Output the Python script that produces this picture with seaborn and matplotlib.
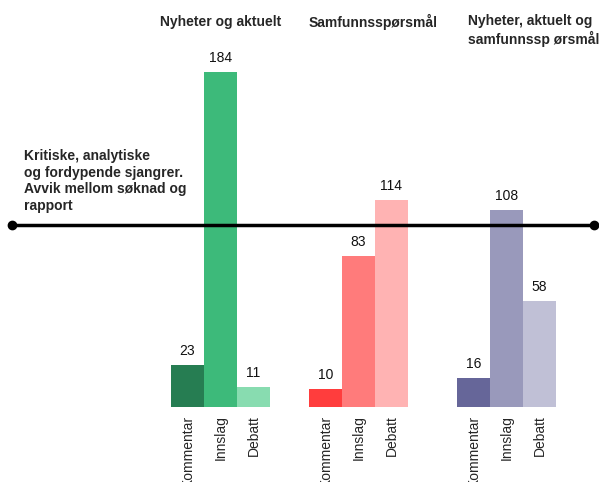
import pandas as pd
import seaborn as sns
import matplotlib.pyplot as plt
import matplotlib.transforms as mtransforms

# data
groups = ['Nyheter og aktuelt', 'Samfunnsspørsmål', 'Nyheter, aktuelt og\nsamfunnssp ørsmål']
genres = ['Kommentar', 'Innslag', 'Debatt']
nyheter = [23, 184, 11]
samfunn = [10, 83, 114]
begge = [16, 108, 58]
threshold = 100
note = 'Kritiske, analytiske\nog fordypende sjangrer.\nAvvik mellom søknad og\nrapport'

colors = ['#267d52', '#3dba7a', '#88dcb0',
          '#ff3d3d', '#ff7b7b', '#ffb3b3',
          '#666699', '#9999bb', '#c0c0d6']

group_offset = [0, 4.18, 8.67]  # bar-width units, first bar of each group

rows = []
for g, vals in enumerate([nyheter, samfunn, begge]):
    for i, v in enumerate(vals):
        rows.append({'pos': group_offset[g] + i, 'value': v,
                     'key': f'{g}-{genres[i]}', 'genre': genres[i]})
df = pd.DataFrame(rows)

sns.set_theme(style='white')
plt.rcParams['font.family'] = ['Liberation Sans', 'DejaVu Sans']

W, H = 599, 482
fig = plt.figure(figsize=(W / 100, H / 100), dpi=100)
base_px = 407
ax = fig.add_axes([0, (H - base_px) / H, 1, base_px / H])

sns.barplot(data=df, x='pos', y='value', hue='key', palette=colors,
            native_scale=True, dodge=False, width=1.0, legend=False,
            saturation=1, linewidth=0, ax=ax)

ax.set_xlim(-5.68, 12.47)
ax.set_ylim(0, base_px / 1.82)
for c in ax.containers:
    ax.bar_label(c, padding=5, fontsize=10, color='#111111')

ax.set_xticks(df['pos'])
ax.set_xticklabels(df['genre'], rotation=90, va='top', fontsize=10)
ax.tick_params(axis='x', length=0, pad=6)
ax.set_yticks([])
ax.set_xlabel('')
ax.set_ylabel('')
sns.despine(ax=ax, left=True, bottom=True)

# reference line with end dots
trans = mtransforms.blended_transform_factory(ax.transAxes, ax.transData)
ax.plot([0.02, 0.992], [threshold, threshold], color='black', lw=2.5,
        marker='o', markersize=6, transform=trans, clip_on=False)

# group headings
fig.text(221 / W, 1 - 22 / H, groups[0], ha='center', va='center',
         fontsize=10, fontweight='bold')
fig.text(373 / W, 1 - 22 / H, groups[1], ha='center', va='center',
         fontsize=10, fontweight='bold')
fig.text(468 / W, 1 - 14 / H, groups[2], ha='left', va='top',
         fontsize=10, fontweight='bold', linespacing=1.2)

fig.text(24 / W, 1 - 149 / H, note, ha='left', va='top',
         fontsize=10, fontweight='bold', linespacing=1.25)

fig.savefig('out.png', dpi=100)
